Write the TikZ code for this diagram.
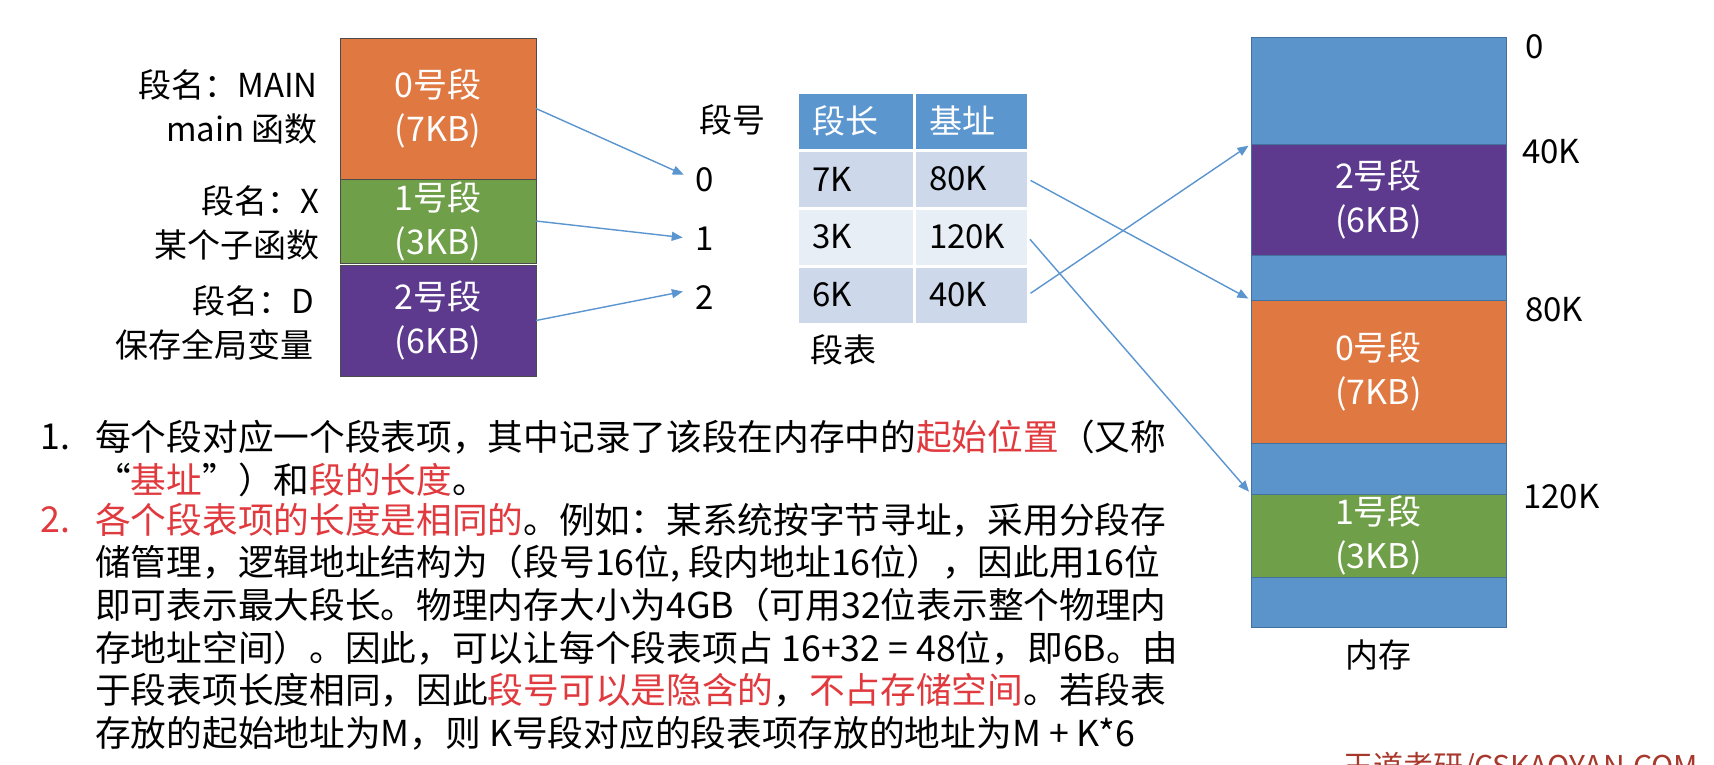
\documentclass[tikz,border=0pt]{standalone}
\usepackage{fontspec}
\setmainfont{Noto Sans CJK SC}
\usepackage{xcolor}
\usepackage{tikz}
\usetikzlibrary{arrows.meta,positioning}
\definecolor{segorange}{HTML}{E07842}
\definecolor{seggreen}{HTML}{6F9F48}
\definecolor{segpurple}{HTML}{5D3A8E}
\definecolor{memblue}{HTML}{5A94CB}
\definecolor{memedge}{HTML}{41719C}
\definecolor{tblhead}{HTML}{5B96CF}
\definecolor{tblrow}{HTML}{CDD9EB}
\definecolor{tblrowlt}{HTML}{E8EEF6}
\definecolor{arrblue}{HTML}{5B95CF}
\definecolor{notered}{HTML}{E0393E}
\definecolor{markred}{HTML}{A8372C}
\newcommand{\redtxt}[1]{\textcolor{notered}{#1}}

\begin{document}
\begin{tikzpicture}[x=1pt, y=-1pt,
    seg/.style={rectangle, draw=gray!60!black, line width=0.8pt, minimum width=196pt, text=white, align=center, font=\fontsize{34}{44}\selectfont, inner sep=0pt, outer sep=0pt},
    memseg/.style={rectangle, draw=memedge, line width=0.8pt, minimum width=255pt, text=white, align=center, font=\fontsize{34}{44}\selectfont, inner sep=0pt, outer sep=0pt},
    lbl/.style={align=right, anchor=east, font=\fontsize{33}{44}\selectfont, inner sep=0pt},
    cell/.style={rectangle, draw=white, line width=3pt, minimum height=58pt, inner xsep=15pt, inner ysep=0pt, outer sep=0pt, align=left, font=\fontsize{33}{40}\selectfont},
    plain/.style={font=\fontsize{33}{40}\selectfont, inner sep=0pt},
    arr/.style={-{Triangle[length=11pt,width=9pt]}, line width=1.4pt, draw=arrblue},
    body/.style={align=left, anchor=west, font=\fontsize{35.7}{42.6}\selectfont, inner sep=0pt}
]
    \path[use as bounding box, fill=white] (0,0) rectangle (1714,764);

    % logical segments
    \node (seg0) [seg, fill=segorange, minimum height=141pt] at (438,108.5) {0号段\\(7KB)};
    \node (seg1) [seg, fill=seggreen, minimum height=84pt, below=0pt of seg0] {1号段\\(3KB)};
    \node (seg2) [seg, fill=segpurple, minimum height=111pt, below=2pt of seg1] {2号段\\(6KB)};

    \node (nm0) [lbl] at (318,107) {段名：MAIN\\main 函数};
    \node (nm1) [lbl] at (320,223) {段名：X\\某个子函数};
    \node (nm2) [lbl] at (314,323) {段名：D\\保存全局变量};

    % segment numbers
    \node (hd) [plain] at (732,120) {段号};
    \node (n0) [plain] at (705,180) {0};
    \node (n1) [plain] at (705,239) {1};
    \node (n2) [plain] at (705,298) {2};

    % segment table
    \node (c00) [cell, fill=tblhead, text=white, text width=87pt, anchor=north west] at (797,92) {段长};
    \node (c01) [cell, fill=tblhead, text=white, text width=84pt, right=0pt of c00] {基址};
    \node (l0) [cell, fill=tblrow, text width=87pt, below=0pt of c00] {7K};
    \node (b0) [cell, fill=tblrow, text width=84pt, right=0pt of l0] {80K};
    \node (l1) [cell, fill=tblrowlt, text width=87pt, below=0pt of l0] {3K};
    \node (b1) [cell, fill=tblrowlt, text width=84pt, right=0pt of l1] {120K};
    \node (l2) [cell, fill=tblrow, text width=87pt, below=0pt of l1] {6K};
    \node (b2) [cell, fill=tblrow, text width=84pt, right=0pt of l2] {40K};
    \node (tbl) [plain] at (843,350) {段表};

    % physical memory
    \node (mem) [rectangle, draw=memedge, line width=0.8pt, fill=memblue, minimum width=255pt, minimum height=590pt, inner sep=0pt, outer sep=0pt] at (1378.5,332) {};
    \node (mem2) [memseg, fill=segpurple, minimum height=111pt] at (1378.5,199.5) {2号段\\(6KB)};
    \node (mem0) [memseg, fill=segorange, minimum height=143pt] at (1378.5,371.5) {0号段\\(7KB)};
    \node (mem1) [memseg, fill=seggreen, minimum height=83pt] at (1378.5,535.5) {1号段\\(3KB)};
    \node (memlbl) [plain] at (1378,655) {内存};

    \node (ad0) [plain, anchor=west] at (1525,47) {0};
    \node (ad40) [plain, anchor=west] at (1522,152) {40K};
    \node (ad80) [plain, anchor=west] at (1525,310) {80K};
    \node (ad120) [plain, anchor=west] at (1523,497) {120K};

    % arrows
    \draw [arr, shorten >=13pt] (seg0.east) -- (n0.west);
    \draw [arr, shorten >=13pt] (seg1.east) -- (n1.west);
    \draw [arr, shorten >=13pt] (seg2.east) -- ([yshift=9pt]n2.west);
    \draw [arr, shorten <=3pt, shorten >=3pt] (b0.east) -- (mem0.north west);
    \draw [arr, shorten <=3pt, shorten >=3pt] (b1.east) -- (mem1.north west);
    \draw [arr, shorten <=3pt, shorten >=3pt] (b2.east) -- (mem2.north west);

    % notes
    \node (num1) [body] at (40,437) {1.};
    \node (num2) [body, text=notered] at (40,520) {2.};
    \node (item1) [body] at (95,458.5) {每个段对应一个段表项，其中记录了该段在内存中的\redtxt{起始位置}（又称\\“\redtxt{基址}”）和\redtxt{段的长度}。};
    \node (item2) [body] at (95,626.5) {\redtxt{各个段表项的长度是相同的}。例如：某系统按字节寻址，采用分段存\\储管理，逻辑地址结构为（段号16位, 段内地址16位），因此用16位\\即可表示最大段长。物理内存大小为4GB（可用32位表示整个物理内\\存地址空间）。因此，可以让每个段表项占 16+32 = 48位，即6B。由\\于段表项长度相同，因此\redtxt{段号可以是隐含的}，\redtxt{不占存储空间}。若段表\\存放的起始地址为M，则 K号段对应的段表项存放的地址为M + K*6};

    \node (mark) [anchor=north west, font=\fontsize{30}{36}\selectfont, text=markred, inner sep=0pt] at (1343,752) {王道考研/CSKAOYAN.COM};
\end{tikzpicture}
\end{document}
